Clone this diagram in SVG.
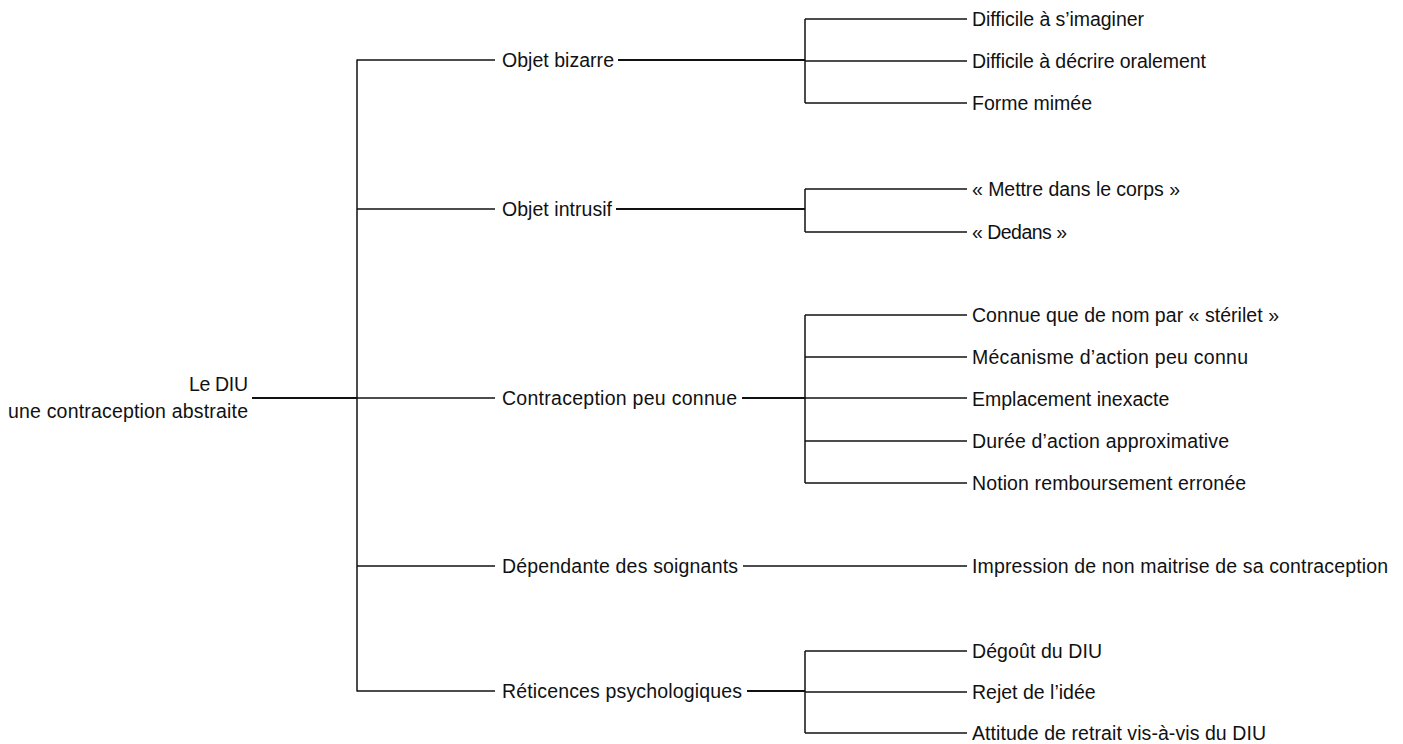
<svg xmlns="http://www.w3.org/2000/svg" width="1403" height="744" viewBox="0 0 1403 744">
<style>
text{font-family:"Liberation Sans",Arial,sans-serif;font-size:19.5px;fill:#111}
.c line,.c path{stroke:#111;stroke-width:1.5;fill:none}
.c .t{stroke-width:2.2}
</style>
<rect width="1403" height="744" fill="#fff"/>
<g class="c" id="connectors">
<line class="t" x1="252" y1="398" x2="357" y2="398"/>
<line x1="357" y1="59.5" x2="357" y2="691.5"/>
<line x1="357" y1="60" x2="495" y2="60"/>
<line x1="357" y1="209" x2="495" y2="209"/>
<line x1="357" y1="398" x2="495" y2="398"/>
<line x1="357" y1="566" x2="495" y2="566"/>
<line x1="357" y1="691" x2="495" y2="691"/>
<line class="t" x1="618" y1="60" x2="805" y2="60"/>
<line x1="805" y1="19" x2="805" y2="103"/>
<line x1="805" y1="19" x2="967" y2="19"/>
<line x1="805" y1="61" x2="967" y2="61"/>
<line x1="805" y1="103" x2="967" y2="103"/>
<line class="t" x1="616" y1="209" x2="805" y2="209"/>
<line x1="805" y1="189" x2="805" y2="232"/>
<line x1="805" y1="189" x2="967" y2="189"/>
<line x1="805" y1="232" x2="967" y2="232"/>
<line class="t" x1="742" y1="398" x2="805" y2="398"/>
<line x1="805" y1="315" x2="805" y2="483"/>
<line x1="805" y1="315" x2="967" y2="315"/>
<line x1="805" y1="357" x2="967" y2="357"/>
<line x1="805" y1="398" x2="967" y2="398"/>
<line x1="805" y1="441" x2="967" y2="441"/>
<line x1="805" y1="483" x2="967" y2="483"/>
<line x1="743" y1="566" x2="967" y2="566"/>
<line class="t" x1="747" y1="691" x2="805" y2="691"/>
<line x1="805" y1="651" x2="805" y2="733"/>
<line x1="805" y1="651" x2="967" y2="651"/>
<line x1="805" y1="692" x2="967" y2="692"/>
<line x1="805" y1="733" x2="967" y2="733"/>
</g>
<g id="root"><text x="248" y="391" text-anchor="end" textLength="59">Le DIU</text><text x="248" y="418" text-anchor="end" textLength="240">une contraception abstraite</text></g>
<g id="n1"><text x="502" y="67" textLength="112">Objet bizarre</text></g>
<g id="n2"><text x="502" y="216" textLength="110">Objet intrusif</text></g>
<g id="n3"><text x="502" y="405" textLength="235">Contraception peu connue</text></g>
<g id="n4"><text x="502" y="573" textLength="236">Dépendante des soignants</text></g>
<g id="n5"><text x="502" y="698" textLength="240">Réticences psychologiques</text></g>
<g id="l1"><text x="972" y="26" textLength="172">Difficile à s’imaginer</text></g>
<g id="l2"><text x="972" y="68" textLength="234">Difficile à décrire oralement</text></g>
<g id="l3"><text x="972" y="110" textLength="120">Forme mimée</text></g>
<g id="l4"><text x="972" y="196" textLength="208">« Mettre dans le corps »</text></g>
<g id="l5"><text x="972" y="239" textLength="95">« Dedans »</text></g>
<g id="l6"><text x="972" y="322" textLength="307">Connue que de nom par « stérilet »</text></g>
<g id="l7"><text x="972" y="364" textLength="276">Mécanisme d’action peu connu</text></g>
<g id="l8"><text x="972" y="406">Emplacement inexacte</text></g>
<g id="l9"><text x="972" y="448" textLength="257">Durée d’action approximative</text></g>
<g id="l10"><text x="972" y="490" textLength="274">Notion remboursement erronée</text></g>
<g id="l11"><text x="972" y="573" textLength="416">Impression de non maitrise de sa contraception</text></g>
<g id="l12"><text x="972" y="658" textLength="130">Dégoût du DIU</text></g>
<g id="l13"><text x="972" y="699">Rejet de l’idée</text></g>
<g id="l14"><text x="972" y="740" textLength="294">Attitude de retrait vis-à-vis du DIU</text></g>
</svg>
